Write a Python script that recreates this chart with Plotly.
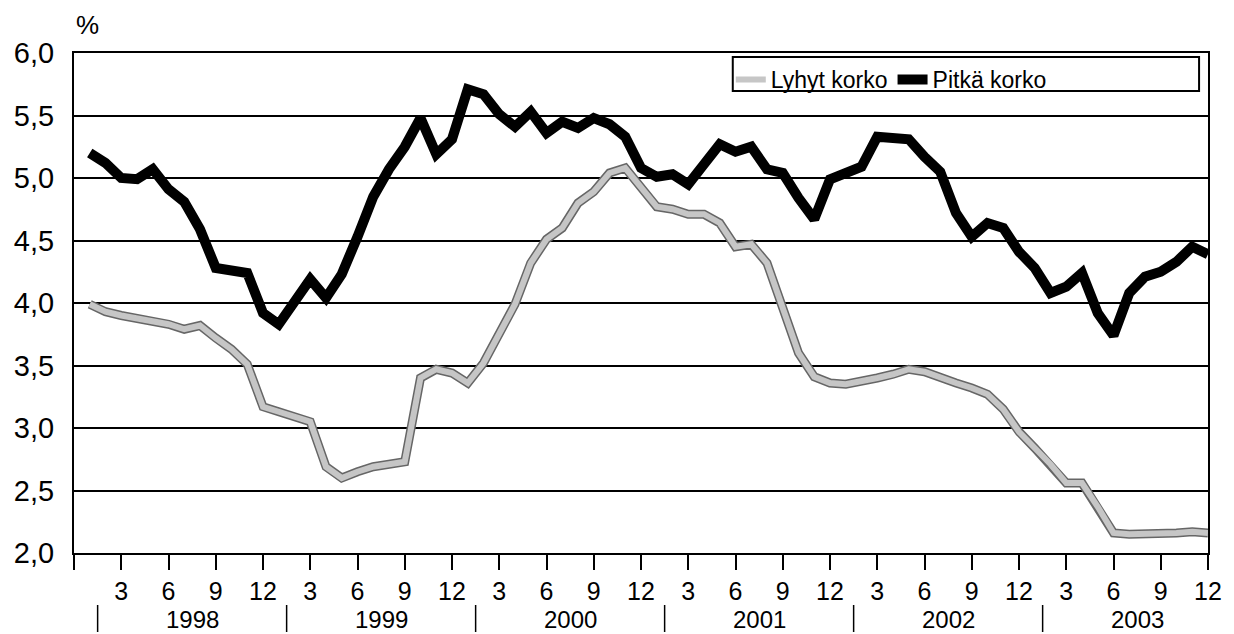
import plotly.graph_objects as go

# Month index: 1 = Jan 1998 ... 72 = Dec 2003
months = list(range(1, 73))

long_rate = [5.20, 5.12, 5.00, 4.99, 5.07, 4.91, 4.81, 4.59, 4.28, 4.25, 4.24, 3.92,
             3.83, 4.01, 4.19, 4.04, 4.23, 4.53, 4.85, 5.07, 5.25, 5.48, 5.19, 5.31,
             5.71, 5.67, 5.51, 5.41, 5.53, 5.36, 5.45, 5.40, 5.48, 5.43, 5.33, 5.08,
             5.01, 5.03, 4.95, 5.11, 5.27, 5.21, 5.25, 5.07, 5.04, 4.84, 4.67, 4.99,
             5.04, 5.09, 5.33, 5.31, 5.31, 5.17, 5.05, 4.72, 4.53, 4.64, 4.60, 4.41,
             4.28, 4.08, 4.13, 4.24, 3.92, 3.74, 4.08, 4.21, 4.25, 4.33, 4.45, 4.39]

short_rate = [3.99, 3.93, 3.90, 3.88, 3.85, 3.83, 3.79, 3.82, 3.72, 3.63, 3.51, 3.17,
              3.13, 3.09, 3.05, 2.69, 2.60, 2.65, 2.69, 2.71, 2.73, 3.40, 3.47, 3.44,
              3.36, 3.52, 3.76, 3.99, 4.32, 4.51, 4.60, 4.80, 4.89, 5.04, 5.08, 4.93,
              4.77, 4.75, 4.71, 4.71, 4.64, 4.45, 4.47, 4.32, 3.97, 3.60, 3.41, 3.36,
              3.35, 3.37, 3.40, 3.43, 3.47, 3.45, 3.40, 3.36, 3.32, 3.27, 3.15, 2.97,
              2.84, 2.71, 2.56, 2.56, 2.37, 2.16, 2.15, 2.15, 2.16, 2.16, 2.17, 2.16]

tick_vals = list(range(0, 73, 3))
tick_text = [""] + ["3", "6", "9", "12"] * 6
years = ["1998", "1999", "2000", "2001", "2002", "2003"]
year_centers = [7.5 + 12 * i for i in range(6)]
year_separators = [1.5 + 12 * i for i in range(6)]

FONT = "Arial, Liberation Sans, sans-serif"
PLOT_L, PLOT_T, PLOT_W, PLOT_H = 74, 53, 1143, 500


def py(y_px):
    """page pixel row -> paper coordinate"""
    return 1 - (y_px - PLOT_T) / PLOT_H


def px(x_px):
    return (x_px - PLOT_L) / PLOT_W


fig = go.Figure()

fig.add_trace(go.Scatter(x=months, y=short_rate, mode="lines",
                         line=dict(color="#666666", width=9),
                         showlegend=False, hoverinfo="skip"))
fig.add_trace(go.Scatter(x=months, y=short_rate, mode="lines", name="Lyhyt korko",
                         line=dict(color="#c6c6c6", width=6)))
fig.add_trace(go.Scatter(x=months, y=long_rate, mode="lines", name="Pitkä korko",
                         line=dict(color="black", width=10)))

for yc, label in zip(year_centers, years):
    fig.add_annotation(x=yc, xref="x", y=py(619), yref="paper", text=label,
                       showarrow=False, yanchor="middle",
                       font=dict(family=FONT, size=24, color="black"))
for xs in year_separators:
    fig.add_shape(type="line", xref="x", yref="paper", x0=xs, x1=xs,
                  y0=py(605), y1=py(632), line=dict(color="black", width=1.5))

# legend frame
fig.add_shape(type="rect", xref="paper", yref="paper",
              x0=px(738), x1=px(1208), y0=py(91), y1=py(57),
              line=dict(color="black", width=2), fillcolor="white", layer="above")

fig.add_annotation(x=0, xref="paper", xanchor="left", y=py(25), yref="paper",
                   yanchor="middle", text="%", showarrow=False,
                   font=dict(family=FONT, size=26, color="black"))

fig.update_layout(
    width=1234, height=634,
    margin=dict(l=74, r=17, t=53, b=81),
    paper_bgcolor="white", plot_bgcolor="white",
    separators=", ",
    font=dict(family=FONT, color="black"),
    legend=dict(orientation="h", x=px(736), xanchor="left",
                y=py(58), yanchor="top",
                bgcolor="rgba(0,0,0,0)", borderwidth=0,
                font=dict(family=FONT, size=23, color="black"),
                itemwidth=30, tracegroupgap=0),
    xaxis=dict(range=[0, 72], tickmode="array", tickvals=tick_vals, ticktext=tick_text,
               ticks="outside", ticklen=15, tickwidth=1.5, tickcolor="black",
               showgrid=False, zeroline=False,
               showline=True, linecolor="black", linewidth=2, mirror=True,
               tickfont=dict(family=FONT, size=25, color="black")),
    yaxis=dict(range=[2, 6], dtick=0.5, tickformat=".1f",
               showgrid=True, gridcolor="black", gridwidth=1.5, zeroline=False,
               showline=True, linecolor="black", linewidth=2, mirror=True,
               ticks="", ticklabelstandoff=12,
               tickfont=dict(family=FONT, size=29, color="black")),
)

fig.write_html("out.html",
               config={"displayModeBar": False},
               post_script="document.body.style.margin='0';"
                           "document.body.style.overflow='hidden';")
